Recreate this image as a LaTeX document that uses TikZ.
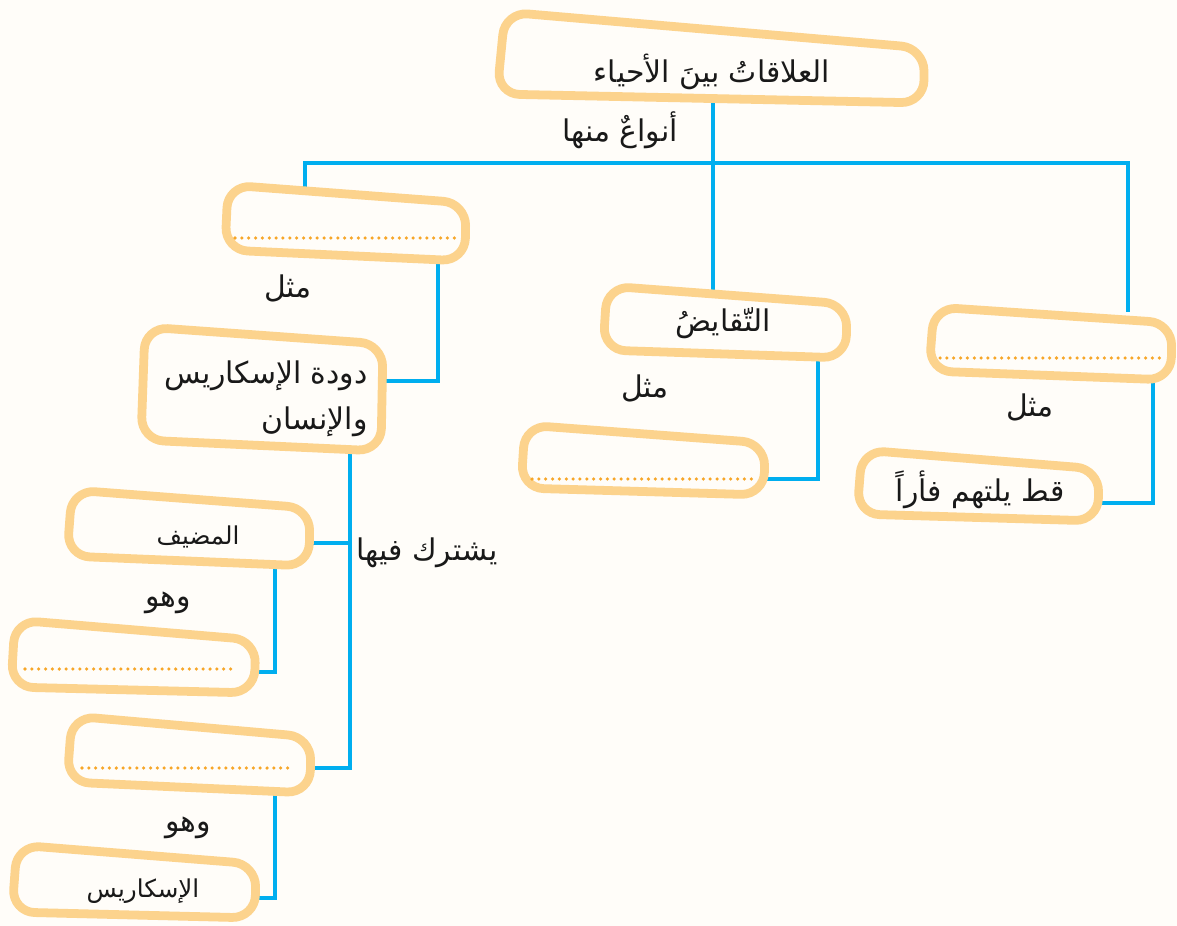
\documentclass[tikz,border=0pt]{standalone}
\usepackage{fontspec}
\newfontfamily\arabicfont[Script=Arabic]{DejaVu Sans}
\TeXXeTstate=1
\usetikzlibrary{positioning}
\definecolor{boxline}{RGB}{252,211,141}
\definecolor{linkblue}{RGB}{0,174,239}
\definecolor{dotorange}{RGB}{247,166,40}
\definecolor{paper}{RGB}{255,253,249}
\newcommand{\ar}[1]{\beginR #1\endR}
\tikzset{
% Define the common looks
box/.style={draw=boxline, line width=5pt, rounded corners=13pt, fill=paper, line join=round},
link/.style={draw=linkblue, line width=2.7pt},
dots/.style={draw=dotorange, line width=2pt, line cap=round, dash pattern=on 0pt off 3.9pt},
label/.style={font=\arabicfont\fontsize{17}{26}\selectfont, inner sep=0, text=black!90},
small/.style={label, font=\arabicfont\fontsize{14}{17}\selectfont}
}

\begin{document}
\begin{tikzpicture}[x=0.02cm, y=-0.02cm]
  \fill[paper] (0,0) rectangle (1177,926);
  \useasboundingbox (0,0) rectangle (1177,926);

  % connector ends on the boxes
  \coordinate (root-s) at (713,100);
  \coordinate (hub) at (713,163);
  \coordinate (parasite-n) at (305,190);
  \coordinate (parasite-s) at (438,258);
  \coordinate (mutual-n) at (713,290);
  \coordinate (mutual-s) at (818,355);
  \coordinate (predator-n) at (1128,312);
  \coordinate (predator-s) at (1153,377);
  \coordinate (worm-e) at (381,381);
  \coordinate (worm-s) at (350,450);
  \coordinate (host-e) at (309,543);
  \coordinate (host-s) at (275,562);
  \coordinate (hostex-e) at (255,672);
  \coordinate (guest-e) at (311,768);
  \coordinate (guest-s) at (275,790);
  \coordinate (ascaris-e) at (255,898);
  \coordinate (mutualex-e) at (764,479);
  \coordinate (cat-e) at (1098,503);

  \draw[link] (root-s) -- (mutual-n);
  \draw[link] (parasite-n) -- (parasite-n |- hub) -- (predator-n |- hub) -- (predator-n);
  \draw[link] (parasite-s) |- (worm-e);
  \draw[link] (worm-s) |- (guest-e);
  \draw[link] (worm-s |- host-e) -- (host-e);
  \draw[link] (host-s) |- (hostex-e);
  \draw[link] (guest-s) |- (ascaris-e);
  \draw[link] (mutual-s) |- (mutualex-e);
  \draw[link] (predator-s) |- (cat-e);

  % the boxes
  \draw[box] (505,12) -- (924,48) -- (924,103) -- (497,94) -- cycle;
  \draw[box] (228,185) -- (466,203) -- (465,261) -- (225,250) -- cycle;
  \draw[box] (607,286) -- (847,304) -- (846,358) -- (603,350) -- cycle;
  \draw[box] (934,307) -- (1172,323) -- (1171,380) -- (929,371) -- cycle;
  \draw[box] (145,327) -- (383,344) -- (381,451) -- (141,440) -- cycle;
  \draw[box] (525,425) -- (765,443) -- (764,495) -- (521,488) -- cycle;
  \draw[box] (862,450) -- (1099,469) -- (1098,521) -- (857,514) -- cycle;
  \draw[box] (72,490) -- (310,508) -- (309,566) -- (67,556) -- cycle;
  \draw[box] (15,620) -- (256,640) -- (254,693) -- (11,687) -- cycle;
  \draw[box] (72,716) -- (311,737) -- (310,793) -- (67,782) -- cycle;
  \draw[box] (17,845) -- (256,864) -- (255,918) -- (12,912) -- cycle;

  % lines to fill in
  \draw[dots] (235,238) -- (458,238);
  \draw[dots] (940,358) -- (1163,358);
  \draw[dots] (532,479) -- (755,479);
  \draw[dots] (25,669) -- (237,669);
  \draw[dots] (82,768) -- (293,768);

  % texts
  \node[label] (root) at (712,72) {\ar{العلاقاتُ بينَ الأحياء}};
  \node[label] (kinds) at (620,130) {\ar{أنواعٌ منها}};
  \node[label] (like1) at (288,288) {\ar{مثل}};
  \node[label, align=right, anchor=east] (worm) at (368,399) {\ar{دودة الإسكاريس}\\\ar{والإنسان}};
  \node[label] (share) at (427,553) {\ar{يشترك فيها}};
  \node[small] (host) at (198,537) {\ar{المضيف}};
  \node[label] (is1) at (168,603) {\ar{وهو}};
  \node[label] (is2) at (188,828) {\ar{وهو}};
  \node[small] (ascaris) at (143,891) {\ar{الإسكاريس}};
  \node[label] (mutual) at (723,323) {\ar{التّقايضُ}};
  \node[label] (like2) at (645,388) {\ar{مثل}};
  \node[label] (like3) at (1030,407) {\ar{مثل}};
  \node[label] (cat) at (980,490) {\ar{قط يلتهم فأراً}};
\end{tikzpicture}
\end{document}
